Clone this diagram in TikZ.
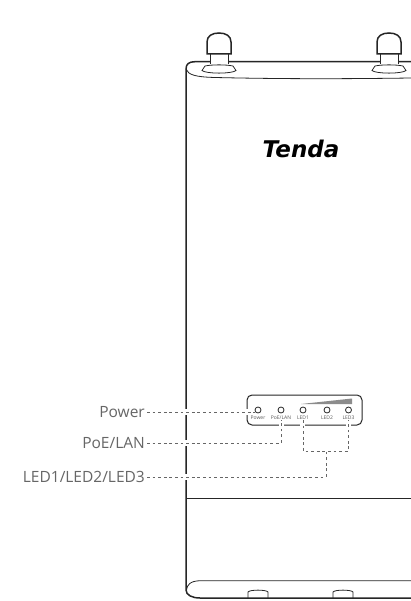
\documentclass[tikz,border=0pt]{standalone}
\usepackage{fontspec}
\setmainfont{Open Sans}
\newfontfamily\logofont{DejaVu Sans}
\tikzset{
 body/.style={line width=1.5pt,draw=black!85},
 thin/.style={line width=.8pt,draw=black!85},
 leader/.style={line width=1pt,draw=black!60,dash pattern=on 2.8pt off 2.8pt},
 callout/.style={text=black!60,font=\fontsize{15.5}{17}\selectfont,inner sep=0pt,anchor=east},
 tiny/.style={text=black!65,font=\fontsize{5}{6}\selectfont,inner sep=0pt},
 led/.style={circle,draw=black!85,line width=.8pt,minimum size=6pt,inner sep=0pt},
 halo/.style={fill=white,draw=none},
}
\begin{document}
\begin{tikzpicture}[x=1pt,y=-1pt]
\useasboundingbox[fill=white] (0,0) rectangle (411,601);
% body
\draw[body] (411,61.7) -- (195,61.7) .. controls (189,61.7) and (186,64) .. (186,69) -- (186,590) .. controls (186,595) and (192,598) .. (200,598) -- (411,598);
\draw[thin] (186,69) .. controls (188,75) and (196,77) .. (215,77.5) .. controls (280,79) and (340,79) .. (411,78);
% antennas
\foreach \x in {0,170}{
\begin{scope}[xshift=\x pt]
\fill[white] (210,54) rectangle (228,65);
\draw[body] (207,54) -- (207,42) .. controls (207,36) and (212,33) .. (219,33) .. controls (226,33) and (231,36) .. (231,42) -- (231,54) -- cycle;
\draw[thin] (210.5,54) -- (210.5,64) (228,54) -- (228,64);
\draw[thin,fill=white] (205,66) .. controls (212,64.5) and (226,64.5) .. (233,66) -- (236,70.5) .. controls (232,74) and (206,74) .. (202,70.5) -- cycle;
\end{scope}}
% logo
\node[inner sep=0pt,anchor=center] (logo) at (301,149) {\logofont\fontsize{23}{25}\selectfont\bfseries\itshape Tenda};
% divider
\draw[line width=1pt,draw=black!85] (186,498) -- (411,498);
% lower plate
\draw[thin] (186.5,590) .. controls (187,585) and (190,581) .. (200,580.7) -- (411,580.7);
\foreach \x in {258,343}{
\draw[thin] (\x-10,598) -- (\x-10,592) .. controls (\x-8,589.5) and (\x+8,589.5) .. (\x+10,592) -- (\x+10,598);
}
% panel
\draw[line width=1pt,draw=black!85,rounded corners=5pt] (247,395) rectangle (362,425);
\fill[black!45] (301,404) -- (352,398.5) -- (352,404) -- cycle;
\node[led] (p) at (258,410) {};
\node[led] (q) at (281,410) {};
\node[led] (a) at (303,410) {};
\node[led] (b) at (327,410) {};
\node[led] (c) at (348.5,410) {};
\node[tiny] (tp) at (258,418) {Power};
\node[tiny] (tq) at (281,418) {PoE/LAN};
\node[tiny] (ta) at (303,418) {LED1};
\node[tiny] (tb) at (327,418) {LED2};
\node[tiny] (tc) at (348.5,418) {LED3};
% crossings
\foreach \xa/\ya/\xb/\yb in {184/409/188/415, 184/440/188/446, 184/474/188/480, 245/409/249/415, 278.5/423/283.5/427, 300/423/305/427, 346/423/351/427}{\fill[halo] (\xa,\ya) rectangle (\xb,\yb);}
% callouts
\node[callout] (L1) at (145,412) {Power};
\node[callout] (L2) at (145,443) {PoE/LAN};
\node[callout] (L3) at (145,477) {LED1/LED2/LED3};
\coordinate (j1) at (281,443);
\coordinate (j2) at (303,451);
\coordinate (j3) at (348.5,451);
\coordinate (j4) at (326,451);
\coordinate (j5) at (326,477);
\draw[leader] ([xshift=2pt]L1.east) -- (p.west |- L1.east);
\draw[leader] ([xshift=2pt]L2.east) -- (j1) -- (tq.south);
\draw[leader] (ta.south) -- (j2) -- (j3) -- (tc.south);
\draw[leader] ([xshift=2pt]L3.east) -- (j5) -- (j4);
\end{tikzpicture}
\end{document}
